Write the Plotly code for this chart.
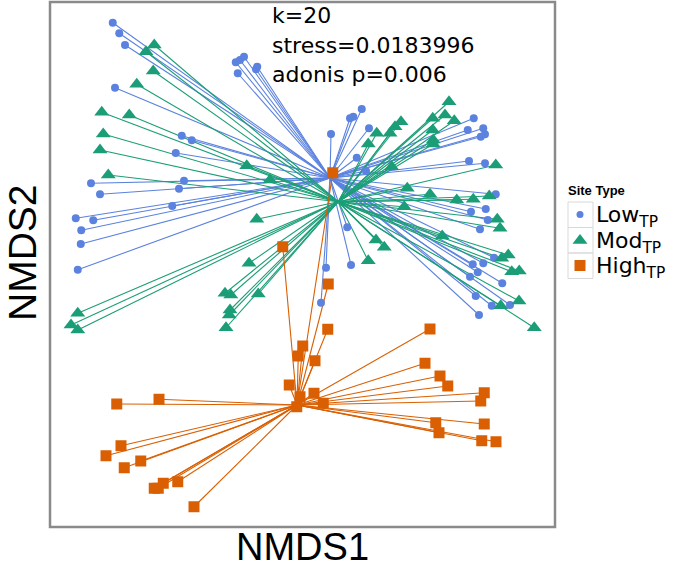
import plotly.graph_objects as go

# ---------------- data (NMDS scores) ----------------
low_x = [-0.749, -0.723, -0.700, -0.740, -0.257, -0.240, -0.224, -0.249, -0.171, -0.176,
         -0.473, -0.433, -0.497, -0.464, -0.836, -0.800, -0.484, -0.511, -0.897, -0.827,
         -0.875, -0.877, -0.889, 0.247, 0.213, 0.200, 0.276, 0.124, 0.227, 0.695,
         0.671, 0.733, 0.740, 0.723, 0.676, 0.740, 0.264, 0.783, 0.684, 0.743,
         0.751, 0.720, 0.189, 0.204, 0.104, 0.084, 0.776, 0.691, 0.733, 0.711,
         0.680, 0.809, 0.703, 0.767, 0.840, 0.716]
low_y = [0.969, 0.927, 0.880, 0.709, 0.811, 0.820, 0.833, 0.767, 0.793, 0.783,
         0.517, 0.499, 0.448, 0.337, 0.327, 0.283, 0.305, 0.236, 0.187, 0.179,
         0.139, 0.084, -0.019, 0.624, 0.593, 0.587, 0.547, 0.524, 0.429, 0.587,
         0.540, 0.547, 0.523, 0.513, 0.416, 0.407, 0.376, 0.283, 0.213, 0.224,
         0.180, 0.143, 0.151, 0.000, -0.011, -0.151, 0.029, 0.003, 0.007, -0.029,
         -0.047, -0.073, -0.124, -0.163, -0.160, -0.200]

mod_x = [-0.583, -0.616, -0.587, -0.653, -0.793, -0.683, -0.787, -0.800, -0.213, -0.767,
         -0.120, -0.173, -0.204, -0.300, -0.277, -0.167, -0.280, -0.283, -0.296, -0.889,
         -0.916, -0.889, 0.596, 0.580, 0.617, 0.531, 0.531, 0.533, 0.533, 0.404,
         0.380, 0.360, 0.307, 0.273, 0.367, 0.783, 0.429, 0.520, 0.627, 0.693,
         0.757, 0.417, 0.789, 0.800, 0.569, 0.304, 0.337, 0.273, 0.807, 0.833,
         0.847, 0.877, 0.876, 0.803, 0.937]
mod_y = [0.880, 0.853, 0.776, 0.723, 0.611, 0.600, 0.524, 0.460, 0.397, 0.360,
         0.340, 0.183, 0.007, -0.113, -0.120, -0.116, -0.180, -0.200, -0.251, -0.193,
         -0.240, -0.260, 0.653, 0.600, 0.577, 0.587, 0.540, 0.500, 0.484, 0.573,
         0.553, 0.527, 0.527, 0.484, 0.393, 0.400, 0.307, 0.283, 0.260, 0.263,
         0.276, 0.233, 0.183, 0.147, 0.116, 0.100, 0.071, 0.017, 0.027, 0.040,
         -0.027, -0.024, -0.144, -0.163, -0.251]

high_x = [0.131, -0.069, 0.113, 0.111, 0.520, 0.011, -0.007, 0.060, -0.043, 0.056,
          0.000, 0.093, -0.013, 0.500, 0.560, 0.591, 0.737, 0.723, 0.543, 0.556,
          0.737, 0.727, 0.784, -0.733, -0.564, -0.716, -0.776, -0.637, -0.703, -0.489,
          -0.547, -0.567, -0.583, -0.424]
high_y = [0.369, 0.073, -0.076, -0.257, -0.256, -0.324, -0.364, -0.383, -0.480, -0.513,
          -0.527, -0.553, -0.567, -0.393, -0.444, -0.484, -0.511, -0.544, -0.631, -0.671,
          -0.636, -0.703, -0.707, -0.556, -0.537, -0.723, -0.763, -0.784, -0.811, -0.867,
          -0.873, -0.893, -0.893, -0.967]

# group centroids (spider centres)
centroid_x = {"Low": 0.120, "Mod": 0.153, "High": -0.012}
centroid_y = {"Low": 0.348, "Mod": 0.253, "High": -0.560}

group_names = ["Low", "Mod", "High"]
group_labels = ["Low<sub>TP</sub>", "Mod<sub>TP</sub>", "High<sub>TP</sub>"]
stats_text = ["k=20", "stress=0.0183996", "adonis p=0.006"]
x_title = "NMDS1"
y_title = "NMDS2"
legend_title = "Site Type"

# ---------------- styling ----------------
colors = {"Low": "#5b82de", "Mod": "#1b9e77", "High": "#d95f02"}
symbols = {"Low": "circle", "Mod": "triangle-up", "High": "square"}
sizes = {"Low": 8, "Mod": 13, "High": 11}

data = {"Low": (low_x, low_y), "Mod": (mod_x, mod_y), "High": (high_x, high_y)}

fig = go.Figure()

# spider segments
for g in group_names:
    xs, ys = data[g]
    lx, ly = [], []
    for xv, yv in zip(xs, ys):
        lx += [centroid_x[g], xv, None]
        ly += [centroid_y[g], yv, None]
    fig.add_trace(go.Scatter(x=lx, y=ly, mode="lines",
                             line=dict(color=colors[g], width=1.1),
                             hoverinfo="skip", showlegend=False))

# points
for g in group_names:
    xs, ys = data[g]
    fig.add_trace(go.Scatter(x=xs, y=ys, mode="markers", name=g,
                             marker=dict(color=colors[g], symbol=symbols[g],
                                         size=sizes[g], line=dict(width=0)),
                             showlegend=False))

# ---------------- layout ----------------
W, H = 678, 575
ML, MT, MB = 50, 2, 48
plot_w = W - ML
plot_h = H - MT - MB
main_right = 555
main_dom = (main_right - ML) / plot_w
leg_left = 560
leg_dom0 = (leg_left - ML) / plot_w

# legend drawn in a side panel (pixel-like coordinates)
leg_y = [214.5, 240.5, 265.5]
for g, yy in zip(group_names, leg_y):
    fig.add_trace(go.Scatter(x=[580], y=[yy], mode="markers", xaxis="x2", yaxis="y2",
                             marker=dict(color=colors[g], symbol=symbols[g],
                                         size={"Low": 7, "Mod": 13, "High": 11}[g],
                                         line=dict(width=0)),
                             hoverinfo="skip", showlegend=False))

shapes = [dict(type="rect", xref="paper", yref="paper", x0=0, x1=main_dom, y0=0, y1=1,
               line=dict(color="#8a8a8a", width=2.5), layer="above")]
box_edges = [202, 227.5, 253, 278.5]
for i in range(3):
    shapes.append(dict(type="rect", xref="x2", yref="y2", x0=568, x1=593,
                       y0=box_edges[i], y1=box_edges[i + 1],
                       line=dict(color="#d9d9d9", width=1), layer="below"))

annotations = []
# stats text
for i, t in enumerate(stats_text):
    py = [15.5, 45.5, 74.5][i]
    annotations.append(dict(text=t, xref="paper", yref="paper",
                            x=(270 - ML) / plot_w, y=(H - MB - py) / plot_h,
                            xanchor="left", yanchor="middle", showarrow=False,
                            font=dict(family="DejaVu Sans", size=22, color="black")))
# axis titles
annotations.append(dict(text=x_title, xref="paper", yref="paper",
                        x=main_dom / 2, y=(H - MB - 547) / plot_h,
                        xanchor="center", yanchor="middle", showarrow=False,
                        font=dict(family="Liberation Sans", size=38, color="black")))
annotations.append(dict(text=y_title, xref="paper", yref="paper",
                        x=(22 - ML) / plot_w, y=(H - MB - 253) / plot_h,
                        xanchor="center", yanchor="middle", showarrow=False, textangle=-90,
                        borderpad=0,
                        font=dict(family="Liberation Sans", size=39, color="black")))
# legend title and labels
annotations.append(dict(text="<b>" + legend_title + "</b>", xref="x2", yref="y2",
                        x=566, y=190, xanchor="left", yanchor="middle", showarrow=False,
                        font=dict(family="Liberation Sans", size=13, color="black")))
for lab, yy in zip(group_labels, leg_y):
    annotations.append(dict(text=lab, xref="x2", yref="y2",
                            x=594, y=yy + 2, xanchor="left", yanchor="middle", showarrow=False,
                            font=dict(family="DejaVu Sans", size=22, color="black")))

fig.update_layout(
    width=W, height=H,
    margin=dict(l=ML, r=0, t=MT, b=MB, pad=0),
    paper_bgcolor="white", plot_bgcolor="white",
    xaxis=dict(domain=[0, main_dom], range=[-1.0, 1.02], showgrid=False, zeroline=False,
               showticklabels=False, ticks="", showline=False),
    yaxis=dict(domain=[0, 1], range=[-1.048, 1.052], showgrid=False, zeroline=False,
               showticklabels=False, ticks="", showline=False),
    xaxis2=dict(domain=[leg_dom0, 1], range=[leg_left, W], visible=False, anchor="y2"),
    yaxis2=dict(domain=[0, 1], range=[H - MB, MT], visible=False, anchor="x2"),
    shapes=shapes, annotations=annotations,
    showlegend=False,
)

fig.write_html("out.html", config={"displayModeBar": False},
               post_script="document.body.style.margin='0px';document.body.style.overflow='hidden';")
